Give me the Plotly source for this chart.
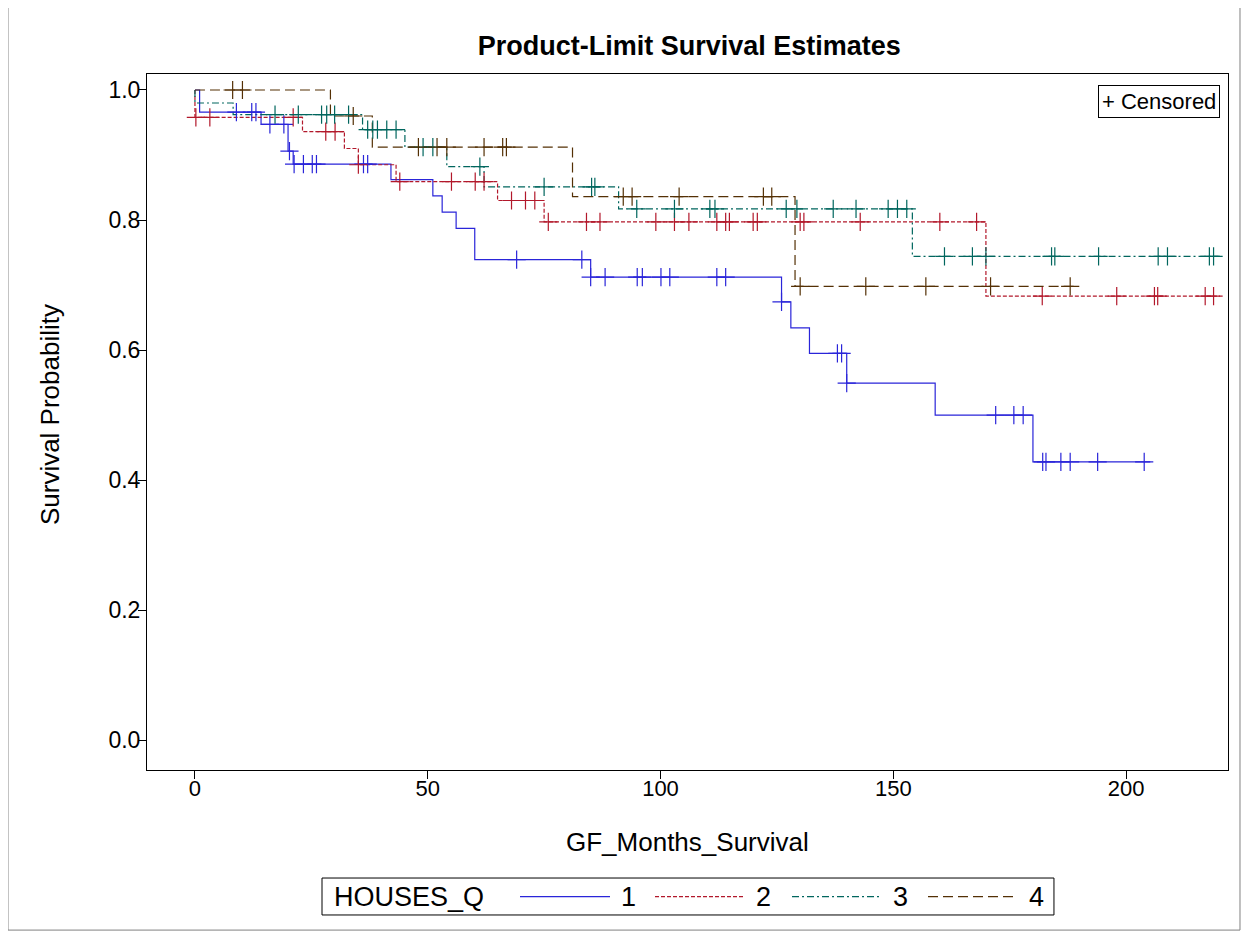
import plotly.graph_objects as go

# ---- data ----
groups = ["1", "2", "3", "4"]
legend_title = "HOUSES_Q"

g1_event_t = [1.0, 14.2, 20.0, 21.1, 42.1, 51.1, 53.1, 56.1, 60.1, 85.0, 126.0, 128.0, 132.0, 140.0, 159.0, 180.0]
g1_surv = [0.966, 0.947, 0.906, 0.886, 0.862, 0.837, 0.812, 0.787, 0.739, 0.712, 0.674, 0.634, 0.595, 0.549, 0.500, 0.428]
g1_cens = [8.9, 12.2, 13.1, 16.1, 19.1, 20.3, 21.3, 23.3, 25.2, 26.1, 36.2, 37.1, 69.1, 83.1, 85.0, 88.1,
           95.0, 96.1, 100.1, 102.0, 112.1, 114.0, 126.0, 138.0, 138.9, 140.0, 172.0, 175.9, 177.9,
           182.1, 182.8, 186.0, 188.0, 193.9, 203.9]
g1_end = 205.2

g2_event_t = [0.0, 23.1, 32.1, 35.1, 43.2, 65.0, 75.0, 169.9]
g2_surv = [0.958, 0.936, 0.910, 0.885, 0.859, 0.830, 0.797, 0.683]
g2_cens = [0.2, 3.2, 21.1, 28.1, 30.1, 35.1, 44.0, 55.1, 60.2, 62.1, 68.0, 71.0, 73.0, 75.9, 84.1, 87.0,
           99.0, 103.0, 106.1, 112.1, 114.0, 114.8, 119.9, 120.8, 130.0, 130.8, 142.9, 160.0, 167.9,
           182.0, 198.0, 206.1, 206.8, 217.0, 218.8]
g2_end = 220.2

g3_event_t = [0.0, 8.2, 36.0, 45.1, 54.1, 62.1, 91.0, 154.1]
g3_surv = [0.980, 0.962, 0.939, 0.912, 0.882, 0.851, 0.817, 0.744]
g3_cens = [17.2, 22.2, 27.2, 28.3, 30.0, 33.0, 37.1, 38.2, 39.2, 41.2, 43.2, 49.0, 51.1, 61.2, 75.0, 85.2,
           85.9, 94.9, 103.0, 110.6, 111.7, 127.0, 129.3, 137.1, 142.0, 148.9, 150.9, 152.9, 161.0,
           167.0, 169.9, 184.0, 184.7, 194.1, 206.9, 208.9, 217.9, 218.8]
g3_end = 220.2

g4_event_t = [29.1, 38.1, 81.1, 128.9]
g4_surv = [0.960, 0.912, 0.836, 0.698]
g4_cens = [8.1, 10.2, 34.0, 48.0, 52.0, 54.1, 62.1, 66.1, 66.9, 92.0, 93.9, 104.0, 122.1, 123.9,
           130.0, 144.1, 157.0, 170.9, 188.0]
g4_end = 189.2

x_ticks = [0, 50, 100, 150, 200]
y_ticks = [0.0, 0.2, 0.4, 0.6, 0.8, 1.0]

# ---- styling ----
colors = ["#2A25D9", "#B2182B", "#01665E", "#543005"]
dashes = ["solid", "4px,2px", "7px,3px,2px,3px", "10px,5px"]

events = [g1_event_t, g2_event_t, g3_event_t, g4_event_t]
survs = [g1_surv, g2_surv, g3_surv, g4_surv]
censs = [g1_cens, g2_cens, g3_cens, g4_cens]
ends = [g1_end, g2_end, g3_end, g4_end]


def step_at(t, ev, sv):
    y = 1.0
    for e, s in zip(ev, sv):
        if t >= e:
            y = s
    return y


fig = go.Figure()
for name, ev, sv, cs, end, col, dsh in zip(groups, events, survs, censs, ends, colors, dashes):
    xs = [0.0] + list(ev) + [end]
    ys = [1.0] + list(sv) + [sv[-1]]
    fig.add_trace(go.Scatter(
        x=xs, y=ys, mode="lines", line=dict(shape="hv", color=col, width=1.2, dash=dsh),
        name=name, showlegend=False, hoverinfo="skip"))
for name, ev, sv, cs, col in zip(groups, events, survs, censs, colors):
    fig.add_trace(go.Scatter(
        x=cs, y=[step_at(t, ev, sv) for t in cs], mode="markers",
        marker=dict(symbol="cross-thin", size=13, color=col, line=dict(color=col, width=1.2)),
        name=name, showlegend=False))

font_fam = "Liberation Sans, Arial, sans-serif"

fig.update_layout(
    width=1250, height=933,
    paper_bgcolor="white", plot_bgcolor="white",
    margin=dict(l=139, r=30, t=66, b=171),
    font=dict(family=font_fam, color="black", size=22),
    title=dict(text="<b>Product-Limit Survival Estimates</b>", x=0.545, xanchor="center",
               y=1 - 38 / 933, yanchor="middle", font=dict(size=27, family=font_fam)),
    showlegend=False,
)

fig.update_xaxes(range=[-10.3, 221.9], tickvals=x_ticks, showgrid=False, zeroline=False,
                 showline=True, linecolor="black", linewidth=1, mirror=True,
                 ticks="outside", ticklen=8, tickcolor="black", tickfont=dict(size=22),
                 ticklabelstandoff=-9)
fig.update_yaxes(range=[-0.046, 1.0246], tickvals=y_ticks, tickformat=".1f", showgrid=False,
                 zeroline=False, showline=True, linecolor="black", linewidth=1, mirror=True,
                 ticks="outside", ticklen=8, tickcolor="black", tickfont=dict(size=23),
                 ticklabelstandoff=-7)

fig.add_annotation(text="GF_Months_Survival", xref="paper", yref="paper", x=0.5, y=-0.1034,
                   xanchor="center", yanchor="middle", showarrow=False, font=dict(size=26))
fig.add_annotation(text="Survival Probability", xref="paper", yref="paper", x=-0.0897, y=0.51,
                   xanchor="center", yanchor="middle", textangle=-90, showarrow=False,
                   font=dict(size=26))
fig.add_annotation(text="+ Censored", xref="paper", yref="paper", x=0.9926, y=0.984,
                   xanchor="right", yanchor="top", showarrow=False, font=dict(size=22),
                   bordercolor="black", borderwidth=1, borderpad=3, bgcolor="white")

# ---- legend box drawn below the plot (paper coordinates) ----
fig.add_shape(type="rect", xref="paper", yref="paper", x0=0.1619, x1=0.8390, y0=-0.2083, y1=-0.1552,
              line=dict(color="black", width=1), fillcolor="white")
leg_y = -0.1818
fig.add_annotation(text=legend_title, xref="paper", yref="paper", x=0.1711, y=leg_y,
                   xanchor="left", yanchor="middle", showarrow=False, font=dict(size=27))
sample_x0 = [520, 655, 792, 928]
for name, col, dsh, sx in zip(groups, colors, dashes, sample_x0):
    fig.add_shape(type="line", xref="paper", yref="paper",
                  x0=(sx - 147) / 1081, x1=(sx + 90 - 147) / 1081, y0=leg_y, y1=leg_y,
                  line=dict(color=col, width=1.2, dash=dsh))
    fig.add_annotation(text=name, xref="paper", yref="paper", x=(sx + 108 - 147) / 1081, y=leg_y,
                       xanchor="center", yanchor="middle", showarrow=False, font=dict(size=27))

# outer image frame
fig.add_shape(type="rect", xref="paper", yref="paper", x0=-0.1286, x1=1.0111, y0=-0.23, y1=1.099,
              line=dict(color="#808080", width=1), layer="below")

fig.write_html("out.html")
